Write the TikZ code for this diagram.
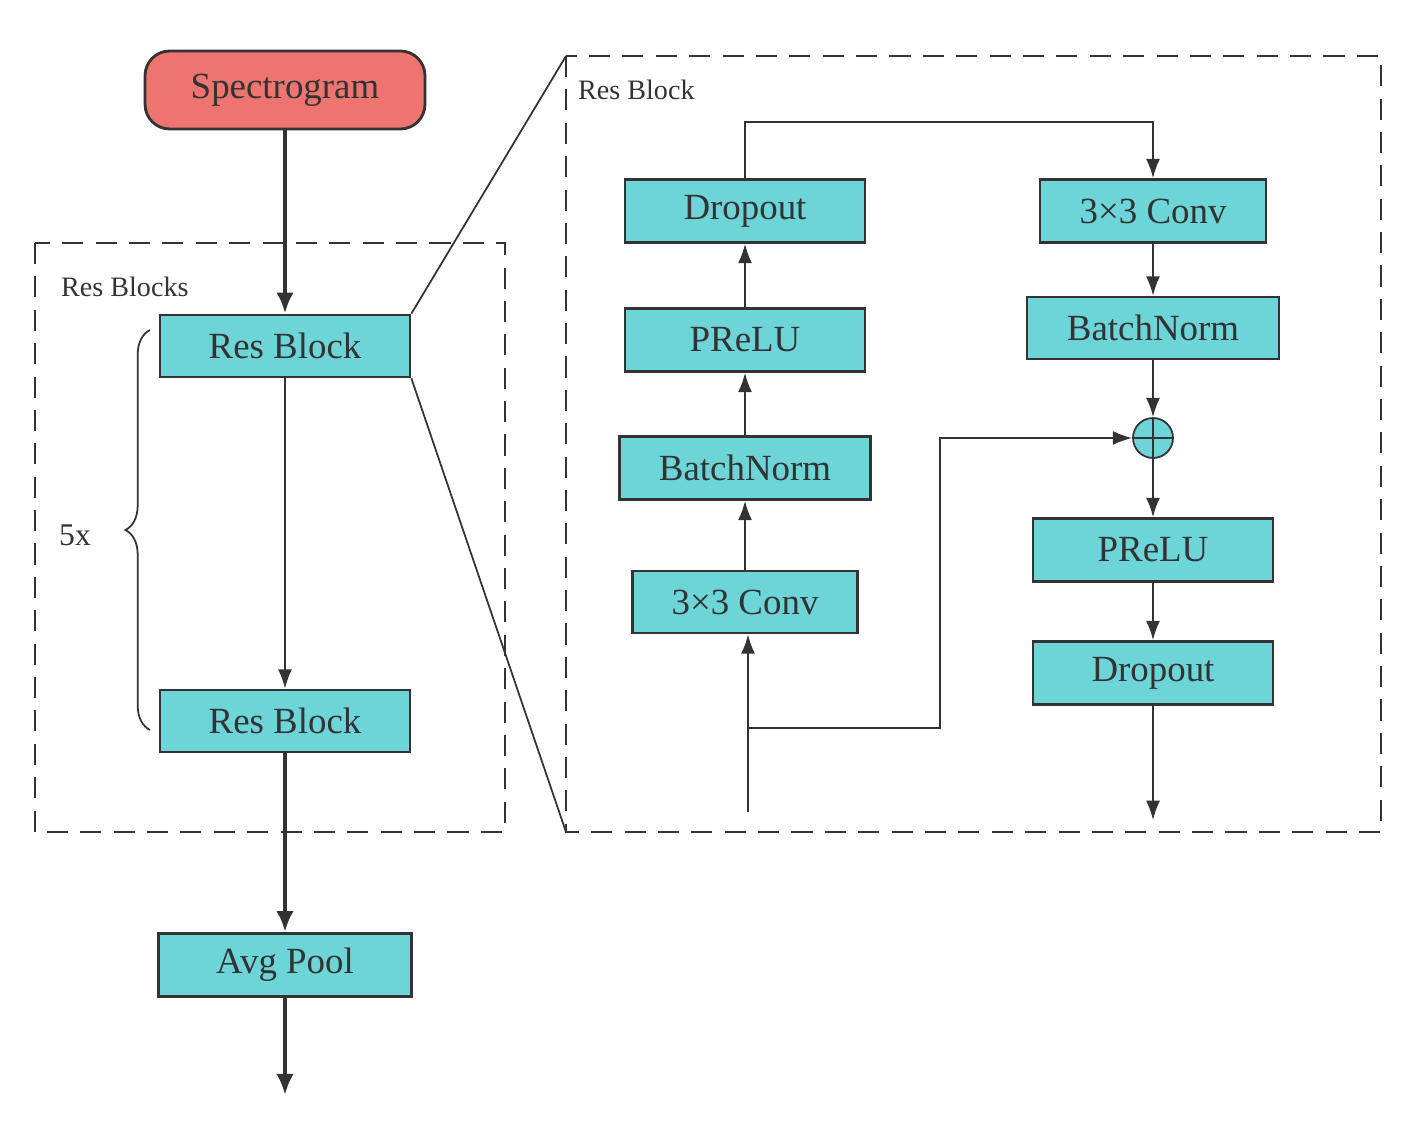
\documentclass[tikz,border=0pt]{standalone}
\usepackage{fontspec}
\setmainfont{Liberation Serif}
\usetikzlibrary{arrows.meta,decorations.pathreplacing}
\definecolor{teal1}{HTML}{6DD5D8}
\definecolor{salm}{HTML}{EE7470}
\definecolor{dk}{HTML}{333333}
\begin{document}
\begin{tikzpicture}[x=0.02cm,y=-0.02cm,
 box/.style={draw=dk,line width=1.6pt,fill=teal1,font=\fontsize{21}{24}\selectfont,text=dk},
 ar/.style={draw=dk,line width=1pt,-{Latex[length=11pt,width=8pt]}},
 tk/.style={draw=dk,line width=2.4pt,-{Latex[length=12pt,width=10pt]}},
 dsh/.style={draw=dk,line width=1.3pt,dash pattern=on 12pt off 7pt}]
\useasboundingbox (0,0) rectangle (1412,1128);
% left
\node[box,fill=salm,rounded corners=14pt,minimum width=280\pgflinewidth/1.6pt*0.02cm*0+5.6cm,minimum height=1.56cm] (sp) at (285,90) {Spectrogram};
\draw[dsh] (35,243) rectangle (505,832);
\node[anchor=west,font=\fontsize{16}{18}\selectfont,text=dk] (lrb) at (55,287) {Res Blocks};
\node[box,minimum width=5cm,minimum height=1.24cm] (r1) at (285,346) {Res Block};
\node[box,minimum width=5cm,minimum height=1.24cm] (r2) at (285,721) {Res Block};
\node[box,minimum width=5.06cm,minimum height=1.26cm] (ap) at (285,965) {Avg Pool};
\coordinate (out) at (285,1095);
\draw[tk] (sp) -- (r1);
\draw[ar] (r1) -- (r2);
\draw[tk] (r2) -- (ap);
\draw[tk] (ap) -- (out);
\draw[draw=dk,line width=1pt,decorate,decoration={brace,amplitude=14pt}] (150,730) -- (150,330);
\node[font=\fontsize{18}{20}\selectfont,text=dk] (fx) at (75,535) {5x};
% right
\draw[dsh] (566,56) rectangle (1381,832);
\node[anchor=west,font=\fontsize{16}{18}\selectfont,text=dk] (rrb) at (572,90) {Res Block};
\coordinate (z1) at (566,56); \coordinate (z2) at (566,832);
\draw[dk,line width=1pt] (r1.north east) -- (z1);
\draw[dk,line width=1pt] (r1.south east) -- (z2);
\node[box,minimum width=4.8cm,minimum height=1.26cm] (d1) at (745,211) {Dropout};
\node[box,minimum width=4.8cm,minimum height=1.26cm] (p1) at (745,340) {PReLU};
\node[box,minimum width=5.02cm,minimum height=1.26cm] (b1) at (745,468) {BatchNorm};
\node[box,minimum width=4.5cm,minimum height=1.24cm] (c1) at (745,602) {3×3 Conv};
\node[box,minimum width=4.52cm,minimum height=1.26cm] (c2) at (1153,211) {3×3 Conv};
\node[box,minimum width=5.04cm,minimum height=1.24cm] (b2) at (1153,328) {BatchNorm};
\node[draw=dk,line width=1pt,fill=teal1,circle,minimum size=0.8cm,inner sep=0pt] (pl) at (1153,438) {};
\draw[dk,line width=1pt] (pl.north)--(pl.south) (pl.west)--(pl.east);
\node[box,minimum width=4.8cm,minimum height=1.26cm] (p2) at (1153,550) {PReLU};
\node[box,minimum width=4.8cm,minimum height=1.26cm] (d2) at (1153,673) {Dropout};
\coordinate (in) at (748,812);
\coordinate (br) at (748,728);
\coordinate (o2) at (1153,820);
\draw[ar] (in) -- (c1.south-|in);
\draw[ar] (c1) -- (b1);
\draw[ar] (b1) -- (p1);
\draw[ar] (p1) -- (d1);
\draw[ar] (d1.north) -- (745,122) -- (1153,122) -- (c2.north);
\draw[ar] (c2) -- (b2);
\draw[ar] (b2) -- (pl);
\draw[ar] (br) -- (940,728) -- (940,438) -- (pl.west);
\draw[ar] (pl) -- (p2);
\draw[ar] (p2) -- (d2);
\draw[ar] (d2) -- (o2);
\end{tikzpicture}
\end{document}
